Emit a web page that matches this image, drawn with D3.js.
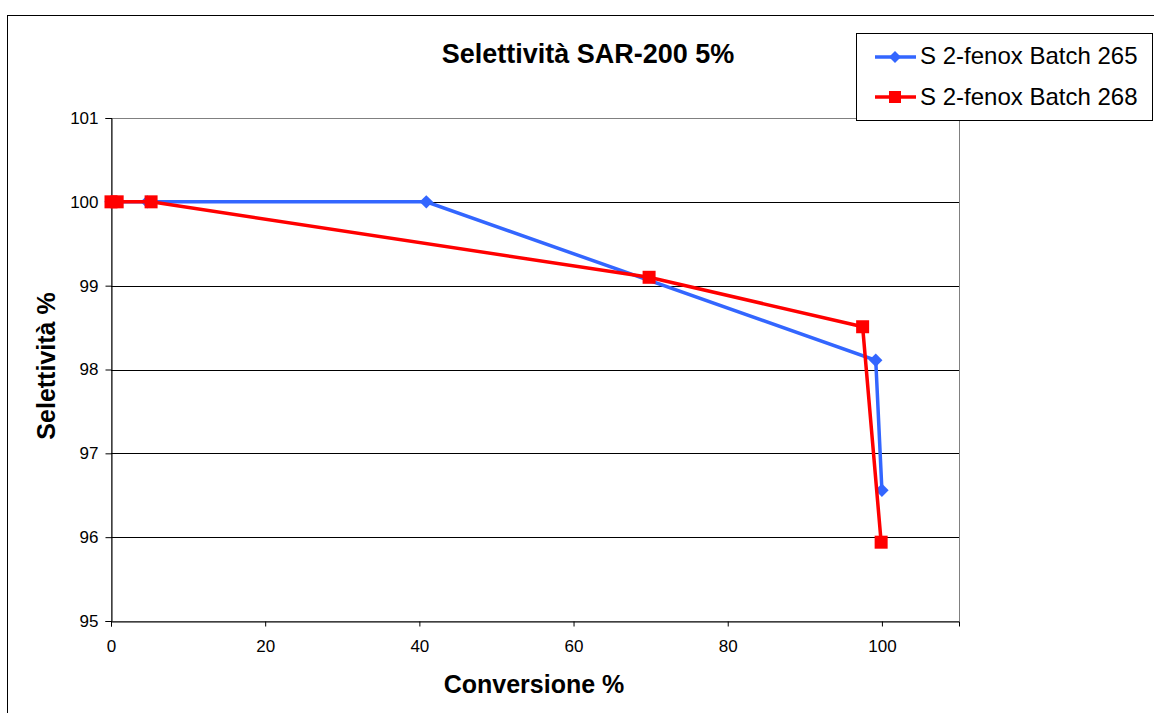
<!DOCTYPE html>
<html><head><meta charset="utf-8">
<script src="https://cdn.jsdelivr.net/npm/d3@7"></script>
<style>body{margin:0;background:#fff;}svg{display:block;font-family:Arial,"Liberation Sans",sans-serif;}</style>
</head><body>
<script>
const seriesNames = ["S 2-fenox Batch 265", "S 2-fenox Batch 268"];
const x265 = [0, 4.7, 40.9, 99.2, 100];
const y265 = [100, 100, 100, 98.11, 96.56];
const x268 = [0, 0.8, 5.2, 69.8, 97.5, 99.9];
const y268 = [100, 100, 100, 99.1, 98.51, 95.94];
const xTicks = [0, 20, 40, 60, 80, 100];
const yTicks = [95, 96, 97, 98, 99, 100, 101];
const colors = ["#3366ff", "#ff0000"];

const W = 1154, H = 713;
const FONT = "Arial, 'Liberation Sans', sans-serif";
const svg = d3.select("body").append("svg").attr("width", W).attr("height", H);
// outer frame
svg.append("rect").attr("x", 7.5).attr("y", 15.5).attr("width", 1200).attr("height", 800)
  .attr("fill", "#fff").attr("stroke", "#000").attr("stroke-width", 1);

const L = 111, R = 959, T = 118, B = 621;
const x = d3.scaleLinear().domain([0, 110]).range([L, R]);
const y = d3.scaleLinear().domain([95, 101]).range([B, T]);

// plot border (top/right gray)
svg.append("rect").attr("x", L + 0.5).attr("y", T + 0.5).attr("width", R - L).attr("height", B - T)
  .attr("fill", "none").attr("stroke", "#808080").attr("stroke-width", 1);
// gridlines
svg.append("g").selectAll("line").data(yTicks.slice(1, -1)).join("line")
  .attr("x1", L).attr("x2", R).attr("y1", d => Math.round(y(d)) + 0.5).attr("y2", d => Math.round(y(d)) + 0.5)
  .attr("stroke", "#000").attr("stroke-width", 1);

const xAxis = svg.append("g").attr("transform", `translate(0,${B + 0.5})`)
  .call(d3.axisBottom(x).tickValues(xTicks).tickSize(5).tickPadding(13).tickFormat(d3.format("d")));
const yAxis = svg.append("g").attr("transform", `translate(${L + 0.5},0)`)
  .call(d3.axisLeft(y).tickValues(yTicks).tickSize(6).tickPadding(7).tickFormat(d3.format("d")));
[xAxis, yAxis].forEach(g => {
  g.select(".domain").attr("stroke", "#000");
  g.selectAll(".tick line").attr("stroke", "#000");
  g.selectAll("text").attr("font-size", 17).attr("fill", "#000").attr("font-family", FONT);
});

const line = d3.line().x(d => x(d[0])).y(d => y(d[1]));
const d265 = x265.map((v, i) => [v, y265[i]]);
const d268 = x268.map((v, i) => [v, y268[i]]);

svg.append("path").datum(d265).attr("d", line).attr("fill", "none").attr("stroke", colors[0]).attr("stroke-width", 3.5);
svg.append("g").selectAll("path").data(d265).join("path")
  .attr("d", d3.symbol(d3.symbolSquare, 90)).attr("fill", colors[0])
  .attr("transform", d => `translate(${x(d[0])},${y(d[1])}) rotate(45)`);

svg.append("path").datum(d268).attr("d", line).attr("fill", "none").attr("stroke", colors[1]).attr("stroke-width", 3.5);
svg.append("g").selectAll("rect").data(d268).join("rect")
  .attr("x", d => x(d[0]) - 6.5).attr("y", d => y(d[1]) - 6.5).attr("width", 13).attr("height", 13).attr("fill", colors[1]);

// titles
svg.append("text").attr("x", 588).attr("y", 63).attr("text-anchor", "middle")
  .attr("font-size", 27).attr("font-weight", "bold").text("Selettività SAR-200 5%");
svg.append("text").attr("x", 534).attr("y", 693).attr("text-anchor", "middle")
  .attr("font-size", 25).attr("font-weight", "bold").text("Conversione %");
svg.append("text").attr("transform", "translate(55,366) rotate(-90)").attr("text-anchor", "middle")
  .attr("font-size", 25).attr("font-weight", "bold").text("Selettività %");

// legend
const lg = svg.append("g");
lg.append("rect").attr("x", 856.5).attr("y", 33.5).attr("width", 296).attr("height", 87)
  .attr("fill", "#fff").attr("stroke", "#000");
seriesNames.forEach((n, i) => {
  const cy = 57 + i * 40;
  lg.append("line").attr("x1", 875).attr("x2", 916).attr("y1", cy).attr("y2", cy)
    .attr("stroke", colors[i]).attr("stroke-width", 3.5);
  if (i === 0) lg.append("path").attr("d", d3.symbol(d3.symbolSquare, 72)).attr("fill", colors[i])
    .attr("transform", `translate(895,${cy}) rotate(45)`);
  else lg.append("rect").attr("x", 889).attr("y", cy - 6).attr("width", 12).attr("height", 12).attr("fill", colors[i]);
  lg.append("text").attr("x", 920).attr("y", cy + 7 + i).attr("font-size", 24).text(n);
});
</script>
</body></html>
